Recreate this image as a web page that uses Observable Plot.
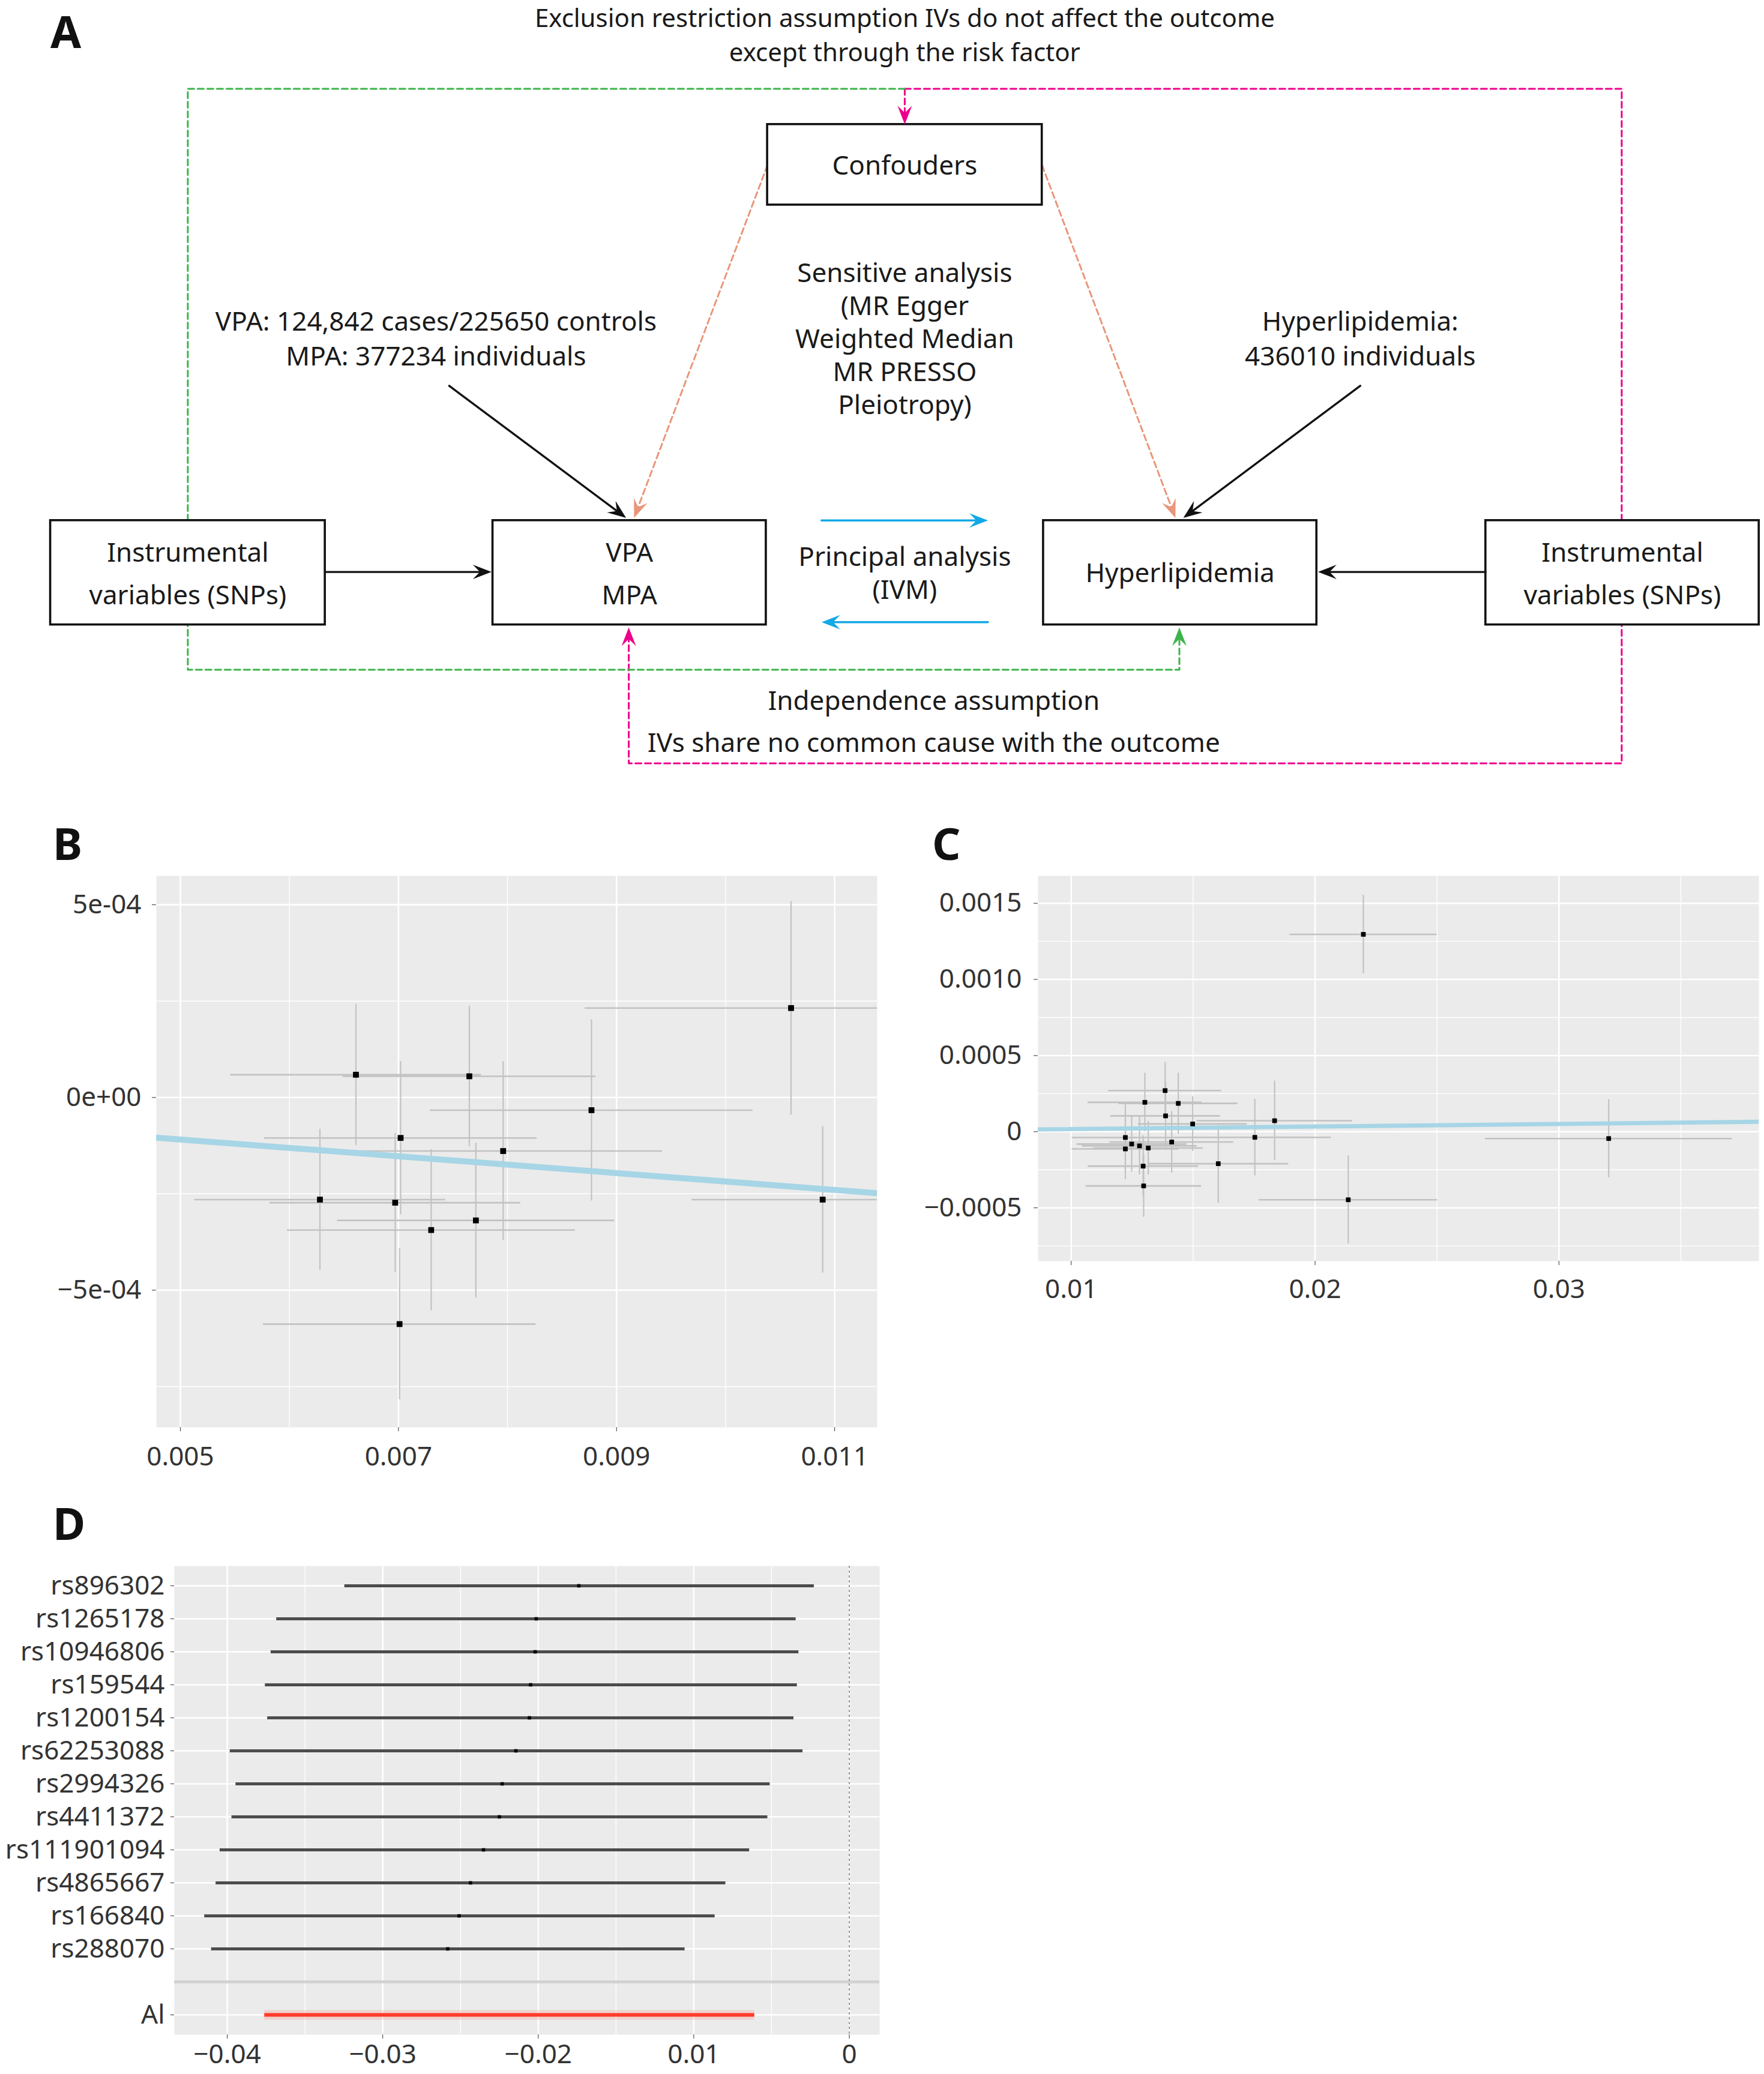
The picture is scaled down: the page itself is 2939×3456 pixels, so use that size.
<!DOCTYPE html>
<html><head><meta charset="utf-8">
<script src="https://cdn.jsdelivr.net/npm/d3@7"></script>
<script src="https://cdn.jsdelivr.net/npm/@observablehq/plot@0.6"></script>
<style>
body{margin:0;background:#fff;}
#root{position:relative;width:2939px;height:3456px;overflow:hidden;font-family:"Noto Sans",sans-serif;background:#fff;}
.panel{position:absolute;}
.lab{position:absolute;font-weight:bold;font-size:74px;line-height:74px;color:#111;font-family:"Noto Sans",sans-serif;}
</style></head><body><div id="root"></div>
<script>
const FONT = '"Noto Sans", "DejaVu Sans", sans-serif';

// ================= DATA =================
// Panel A – diagram text
const aTitle = ["Exclusion restriction assumption IVs do not affect the outcome", "except through the risk factor"];
const aBoxLabels = [["Confouders"], ["VPA", "MPA"], ["Hyperlipidemia"], ["Instrumental", "variables (SNPs)"], ["Instrumental", "variables (SNPs)"]];
const aExposureNote = ["VPA: 124,842 cases/225650 controls", "MPA: 377234 individuals"];
const aSensitivity = ["Sensitive analysis", "(MR Egger", "Weighted Median", "MR PRESSO", "Pleiotropy)"];
const aOutcomeNote = ["Hyperlipidemia:", "436010 individuals"];
const aPrincipal = ["Principal analysis", "(IVM)"];
const aIndependence = ["Independence assumption", "IVs share no common cause with the outcome"];

// Panel B – SNP effects on exposure (x) and outcome (y)
const bBetaExp = [0.00661, 0.00765, 0.00877, 0.01060, 0.00702, 0.00796, 0.00628, 0.00697, 0.00771, 0.00730, 0.01089, 0.00701];
const bBetaOut = [5.9e-5, 5.5e-5, -3.3e-5, 2.32e-4, -1.05e-4, -1.39e-4, -2.65e-4, -2.73e-4, -3.19e-4, -3.44e-4, -2.65e-4, -5.88e-4];
const bSeExp = [0.00115, 0.00116, 0.00148, 0.00189, 0.00125, 0.00146, 0.00115, 0.00115, 0.00127, 0.00132, 0.00120, 0.00125];
const bSeOut = [1.83e-4, 1.82e-4, 2.35e-4, 2.77e-4, 1.99e-4, 2.32e-4, 1.83e-4, 1.80e-4, 2.01e-4, 2.09e-4, 1.90e-4, 1.96e-4];
const bSlope = -0.0218;
const bXTicks = [0.005, 0.007, 0.009, 0.011];
const bXTickLabels = ["0.005", "0.007", "0.009", "0.011"];
const bXMinor = [0.006, 0.008, 0.010];
const bYTicks = [5e-4, 0, -5e-4];
const bYTickLabels = ["5e-04", "0e+00", "\u22125e-04"];
const bYMinor = [2.5e-4, -2.5e-4, -7.5e-4];

// Panel C
const cBetaExp = [0.02198, 0.03204, 0.02136, 0.01834, 0.01753, 0.01603, 0.01498, 0.01385, 0.01302, 0.01439, 0.01387, 0.01222, 0.01222, 0.01248, 0.01280, 0.01316, 0.01412, 0.01295, 0.01297];
const cBetaOut = [1.296e-3, -4.5e-5, -4.47e-4, 7.2e-5, -3.7e-5, -2.10e-4, 5.1e-5, 2.70e-4, 1.93e-4, 1.86e-4, 1.04e-4, -3.8e-5, -1.13e-4, -8.1e-5, -9.3e-5, -1.07e-4, -6.8e-5, -2.26e-4, -3.56e-4];
const cSeExp = [0.00302, 0.00506, 0.00366, 0.00319, 0.00313, 0.00288, 0.00223, 0.00232, 0.00234, 0.00244, 0.00225, 0.00219, 0.00219, 0.00225, 0.00236, 0.00225, 0.00254, 0.00226, 0.00237];
const cSeOut = [2.57e-4, 2.57e-4, 2.89e-4, 2.62e-4, 2.52e-4, 2.58e-4, 1.79e-4, 1.86e-4, 1.92e-4, 2.00e-4, 2.20e-4, 2.15e-4, 2.00e-4, 1.83e-4, 1.89e-4, 1.76e-4, 2.02e-4, 2.00e-4, 2.05e-4];
const cSlope = 0.0017;
const cXTicks = [0.01, 0.02, 0.03];
const cXTickLabels = ["0.01", "0.02", "0.03"];
const cXMinor = [0.015, 0.025, 0.035];
const cYTicks = [0.0015, 0.001, 0.0005, 0, -0.0005];
const cYTickLabels = ["0.0015", "0.0010", "0.0005", "0", "\u22120.0005"];
const cYMinor = [0.00125, 0.00075, 0.00025, -0.00025, -0.00075];

// Panel D – leave-one-out forest
const dSnps = ["rs896302", "rs1265178", "rs10946806", "rs159544", "rs1200154", "rs62253088", "rs2994326", "rs4411372", "rs111901094", "rs4865667", "rs166840", "rs288070"];
const dEst = [-0.01739, -0.02013, -0.0202, -0.02049, -0.02057, -0.02144, -0.02232, -0.0225, -0.02352, -0.02436, -0.02509, -0.02582];
const dLo = [-0.03245, -0.03683, -0.03719, -0.03756, -0.03741, -0.03982, -0.03945, -0.03971, -0.04047, -0.04073, -0.04146, -0.04102];
const dHi = [-0.00226, -0.00343, -0.00325, -0.00335, -0.00357, -0.00299, -0.00510, -0.00525, -0.00642, -0.00795, -0.00864, -0.01057];
const dAllLabel = "Al";
const dAllEst = -0.02195, dAllLo = -0.03760, dAllHi = -0.00609;
const dXTicks = [-0.04, -0.03, -0.02, -0.01, 0];
const dXTickLabels = ["\u22120.04", "\u22120.03", "\u22120.02", "0.01", "0"];
const dXMinor = [-0.035, -0.025, -0.015, -0.005];

// ================= LAYOUT =================
const root = document.getElementById("root");
function place(el, left, top) {
  const d = document.createElement("div");
  d.className = "panel"; d.style.left = left + "px"; d.style.top = top + "px";
  d.appendChild(el); root.appendChild(d);
}
function label(t, left, top) {
  const d = document.createElement("div"); d.className = "lab";
  d.style.left = left + "px"; d.style.top = top + "px"; d.textContent = t; root.appendChild(d);
}
const svgStyle = {fontFamily: FONT, background: "transparent", overflow: "visible", maxWidth: "none"};

// ---------- Panel A ----------
const LA = {
  boxes: [[581, 789, 94, 155], [373, 580, 394, 473], [790, 997, 394, 473], [38, 246, 394, 473], [1125, 1332, 394, 473]],
  title: [685, [14, 40]],
  exposureNote: [330, [244, 270]],
  sensitivity: [685, [207, 232, 257, 282, 307]],
  outcomeNote: [1030, [244, 270]],
  principal: [685, [422, 447]],
  independence: [707, [531, 563]]
};
const COL = {black: "#111", salmon: "#e9967a", blue: "#12a9e6", pink: "#ec008c", green: "#3cb44a"};
const aArrows = [
  {p: [[246, 433], [372, 433]], c: COL.black},
  {p: [[1125, 433], [998, 433]], c: COL.black},
  {p: [[340, 292], [474, 392]], c: COL.black},
  {p: [[1030, 292], [896, 392]], c: COL.black},
  {p: [[581, 125], [480, 392]], c: COL.salmon, dash: true},
  {p: [[789, 125], [890, 392]], c: COL.salmon, dash: true},
  {p: [[622, 394], [748, 394]], c: COL.blue},
  {p: [[748, 471], [622, 471]], c: COL.blue},
  {p: [[685, 67], [1228, 67], [1228, 578], [476, 578], [476, 475]], c: COL.pink, dash: true},
  {p: [[685, 67], [685, 94]], c: COL.pink, dash: true},
  {p: [[685, 67], [142, 67], [142, 507], [893, 507], [893, 475]], c: COL.green, dash: true}
];
const K = 2939 / 1336;
function headSymbol(theta) {
  const Lh = 31, W = 12, c = Math.cos(theta), s = Math.sin(theta);
  const pts = [[0, 0], [-Lh, -W], [-0.62 * Lh, 0], [-Lh, W]].map(([x, y]) => [x * c - y * s, x * s + y * c]);
  return {draw(ctx) { ctx.moveTo(...pts[0]); for (let i = 1; i < pts.length; i++) ctx.lineTo(...pts[i]); ctx.closePath(); }};
}
const aText = [];
aBoxLabels.forEach((lines, i) => {
  const [x1, x2, y1, y2] = LA.boxes[i];
  lines.forEach((t, j) => aText.push({x: (x1 + x2) / 2, y: lines.length === 1 ? (y1 + y2) / 2 + 1 : y1 + 25 + j * 32, t, fs: 44}));
});
[[aTitle, LA.title, 42], [aExposureNote, LA.exposureNote, 44], [aSensitivity, LA.sensitivity, 44], [aOutcomeNote, LA.outcomeNote, 44], [aPrincipal, LA.principal, 44], [aIndependence, LA.independence, 44]]
  .forEach(([lines, [x, ys], fs]) => lines.forEach((t, j) => aText.push({x, y: ys[j], t, fs})));

const aLineMarks = [], aHeadMarks = [];
aArrows.forEach((a, k) => {
  const pts = a.p.map(q => q.slice());
  const n = pts.length, [xa, ya] = pts[n - 2], [xb, yb] = pts[n - 1];
  const th = Math.atan2(yb - ya, xb - xa);
  const short = 16 / K;
  pts[n - 1] = [xb - short * Math.cos(th), yb - short * Math.sin(th)];
  aLineMarks.push(Plot.line(pts, {x: d => d[0], y: d => d[1], stroke: a.c, strokeWidth: a.dash ? 3 : 3.4, strokeDasharray: a.dash ? "10,6" : null, curve: "linear"}));
  aHeadMarks.push(Plot.dot([[xb, yb]], {x: d => d[0], y: d => d[1], symbol: headSymbol(th), r: 10, fill: a.c, stroke: null}));
});
const boxRows = LA.boxes.map(([x1, x2, y1, y2]) => ({x1, x2, y1, y2}));
const plotA = Plot.plot({
  width: 2939, height: 1320, margin: 0,
  style: svgStyle,
  x: {domain: [0, 1336], axis: null},
  y: {domain: [0, 600], reverse: true, axis: null},
  marks: [
    ...aLineMarks.filter((m, i) => aArrows[i].dash),
    Plot.rect(boxRows, {x1: "x1", x2: "x2", y1: "y1", y2: "y2", fill: "#fff", stroke: "#111", strokeWidth: 3.6}),
    ...aLineMarks.filter((m, i) => !aArrows[i].dash),
    ...aHeadMarks,
    Plot.text(aText.filter(d => d.fs === 44), {x: "x", y: "y", text: "t", fontSize: 44, fill: "#1a1a1a", fontFamily: FONT}),
    Plot.text(aText.filter(d => d.fs === 42), {x: "x", y: "y", text: "t", fontSize: 42, fill: "#1a1a1a", fontFamily: FONT})
  ]
});
place(plotA, 0, 0);

// ---------- scatter panels ----------
function scatter(cfg) {
  const rows = cfg.bx.map((x, i) => ({x, y: cfg.by[i], sx: cfg.sx[i], sy: cfg.sy[i]}));
  const fx = d => cfg.xLabels[cfg.xTicks.indexOf(d)];
  const fy = d => cfg.yLabels[cfg.yTicks.indexOf(d)];
  return Plot.plot({
    width: cfg.width, height: cfg.height,
    marginLeft: cfg.ml, marginRight: cfg.mr, marginTop: cfg.mt, marginBottom: cfg.mb,
    style: svgStyle,
    x: {domain: cfg.domX, label: null}, y: {domain: cfg.domY, label: null},
    marks: [
      Plot.frame({fill: "#EBEBEB", stroke: null}),
      Plot.gridX(cfg.xMinor, {stroke: "#fff", strokeOpacity: 1, strokeWidth: 1.4}),
      Plot.gridY(cfg.yMinor, {stroke: "#fff", strokeOpacity: 1, strokeWidth: 1.4}),
      Plot.gridX(cfg.xTicks, {stroke: "#fff", strokeOpacity: 1, strokeWidth: 2.6}),
      Plot.gridY(cfg.yTicks, {stroke: "#fff", strokeOpacity: 1, strokeWidth: 2.6}),
      Plot.ruleY(rows, {y: "y", x1: d => d.x - d.sx, x2: d => d.x + d.sx, stroke: "#c2c2c2", strokeWidth: 2.6, clip: true}),
      Plot.ruleX(rows, {x: "x", y1: d => d.y - d.sy, y2: d => d.y + d.sy, stroke: "#c2c2c2", strokeWidth: 2.2, clip: true}),
      Plot.line(cfg.domX, {x: d => d, y: d => cfg.slope * d, stroke: "#a6d5e6", strokeWidth: cfg.lineW, clip: true}),
      Plot.dot(rows, {x: "x", y: "y", r: cfg.r, fill: "#000", stroke: null, symbol: "square"}),
      Plot.axisX(cfg.xTicks, {label: null, tickFormat: fx, tickSize: 7, tickPadding: cfg.padX, fontSize: 44, color: "#333", stroke: "#333"}),
      Plot.axisY(cfg.yTicks, {label: null, tickFormat: fy, tickSize: 7, tickPadding: cfg.padY, fontSize: 44, color: "#333", stroke: "#333"})
    ]
  });
}

const plotB = scatter({
  bx: bBetaExp, by: bBetaOut, sx: bSeExp, sy: bSeOut, slope: bSlope,
  domX: [0.00478, 0.01139], domY: [-0.000856, 0.000575],
  xTicks: bXTicks, xLabels: bXTickLabels, xMinor: bXMinor,
  yTicks: bYTicks, yLabels: bYTickLabels, yMinor: bYMinor,
  width: 1471, height: 1019, ml: 260, mr: 10, mt: 10, mb: 90, padX: 25, padY: 18, lineW: 10, r: 5.5
});
place(plotB, 0, 1449);

const plotC = scatter({
  bx: cBetaExp, by: cBetaOut, sx: cSeExp, sy: cSeOut, slope: cSlope,
  domX: [0.00864, 0.0382], domY: [-0.00085, 0.00168],
  xTicks: cXTicks, xLabels: cXTickLabels, xMinor: cXMinor,
  yTicks: cYTicks, yLabels: cYTickLabels, yMinor: cYMinor,
  width: 1440, height: 742, ml: 230, mr: 9, mt: 10, mb: 90, padX: 23, padY: 20, lineW: 7, r: 4.4
});
place(plotC, 1499, 1449);

// ---------- Panel D ----------
const dRows = dSnps.map((s, i) => ({snp: s, est: dEst[i], lo: dLo[i], hi: dHi[i]}));
const dAll = [{snp: dAllLabel, est: dAllEst, lo: dAllLo, hi: dAllHi}];
const dDomainY = [...dSnps, " ", dAllLabel];
const fdx = d => dXTickLabels[dXTicks.indexOf(d)];
const plotD = Plot.plot({
  width: 1475, height: 857, marginLeft: 290, marginRight: 10, marginTop: 10, marginBottom: 66,
  style: svgStyle,
  x: {domain: [-0.0434, 0.00195], label: null},
  y: {type: "point", domain: dDomainY, padding: 0.6, label: null},
  marks: [
    Plot.frame({fill: "#EBEBEB", stroke: null}),
    Plot.gridX(dXMinor, {stroke: "#fff", strokeOpacity: 1, strokeWidth: 1.4}),
    Plot.gridX(dXTicks, {stroke: "#fff", strokeOpacity: 1, strokeWidth: 2.6}),
    Plot.gridY([...dSnps, dAllLabel], {stroke: "#fff", strokeOpacity: 1, strokeWidth: 2.6}),
    Plot.ruleY([" "], {stroke: "#d2d2d2", strokeWidth: 5}),
    Plot.ruleX([0], {stroke: "#9c9c9c", strokeWidth: 2, strokeDasharray: "4,4"}),
    Plot.ruleY(dRows, {y: "snp", x1: "lo", x2: "hi", stroke: "#4c4c4c", strokeWidth: 5}),
    Plot.dot(dRows, {x: "est", y: "snp", r: 3.2, fill: "#000", stroke: null, symbol: "square"}),
    Plot.ruleY(dAll, {y: "snp", x1: "lo", x2: "hi", stroke: "#ff3b2b", strokeOpacity: 0.15, strokeWidth: 16}),
    Plot.ruleY(dAll, {y: "snp", x1: "lo", x2: "hi", stroke: "#ff3b2b", strokeWidth: 6}),
    Plot.axisX(dXTicks, {label: null, tickFormat: fdx, tickSize: 7, tickPadding: 9, fontSize: 44, color: "#333", stroke: "#333"}),
    Plot.axisY([...dSnps, dAllLabel], {label: null, tickSize: 6, tickPadding: 10, fontSize: 44, color: "#333", stroke: "#333"})
  ]
});
place(plotD, 0, 2599);

// Panel letters
label("A", 84, 15);
label("B", 88, 1368);
label("C", 1553, 1368);
label("D", 88, 2501);
</script></body></html>
